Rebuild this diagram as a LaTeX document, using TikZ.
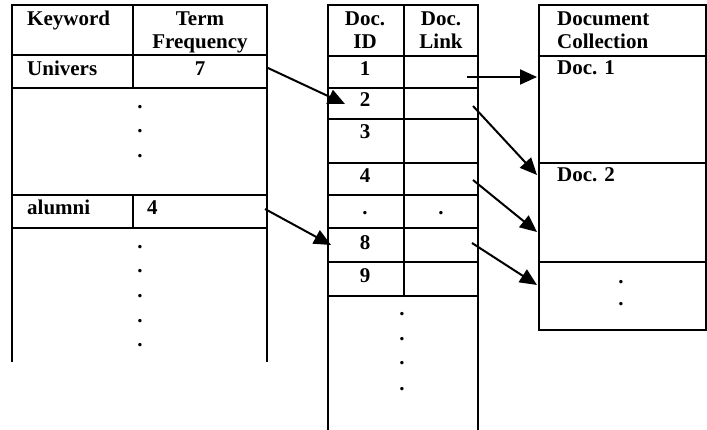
\documentclass[tikz,border=0pt]{standalone}
\usepackage{fontspec}
\setmainfont{Liberation Serif}
\usetikzlibrary{arrows.meta}

\tikzset{
  gridLine/.style={line width=2pt, line cap=rect},
  cellText/.style={font=\fontsize{21}{23}\selectfont\bfseries, inner sep=0pt},
  dotMark/.style={cellText, anchor=base},
  linkArrow/.style={line width=2pt, -{Triangle[length=17pt,width=15pt]}},
}

\begin{document}
\begin{tikzpicture}[x=1pt, y=-1pt]
  \useasboundingbox (0,0) rectangle (707,430);

  % keyword table
  \draw[gridLine] (12,361) -- (12,5) -- (267,5) -- (267,361);
  \foreach \y in {55,88,195,228} \draw[gridLine] (12,\y) -- (267,\y);
  \draw[gridLine] (133,5) -- (133,88);
  \draw[gridLine] (133,195) -- (133,228);
  \node[cellText, anchor=base west] (kwHead) at (27,26) {Keyword};
  \node[cellText, anchor=north, align=center] (tfHead) at (200,12) {Term\\Frequency};
  \node[cellText, anchor=base west] (kwUnivers) at (27,76) {Univers};
  \node[cellText, anchor=base] (tfUnivers) at (200,76) {7};
  \node[cellText, anchor=base west] (kwAlumni) at (27,215) {alumni};
  \node[cellText, anchor=base west] (tfAlumni) at (147,215) {4};
  \foreach \y in {109,133,158,249,273,298,323,347}
    \node[dotMark] at (140,\y) {.};

  % posting table
  \draw[gridLine] (328,430) -- (328,5) -- (478,5) -- (478,430);
  \foreach \y in {56,88,119,163,195,228,262,296} \draw[gridLine] (328,\y) -- (478,\y);
  \draw[gridLine] (404,5) -- (404,296);
  \node[cellText, anchor=north, align=center] (idHead) at (365,12) {Doc.\\ID};
  \node[cellText, anchor=north, align=center] (linkHead) at (441,12) {Doc.\\Link};
  \node[cellText, anchor=base] (id1) at (365,76) {1};
  \node[cellText, anchor=base] (id2) at (365,107) {2};
  \node[cellText, anchor=base] (id3) at (365,139) {3};
  \node[cellText, anchor=base] (id4) at (365,183) {4};
  \node[dotMark] (idGap) at (365,215) {.};
  \node[dotMark] (linkGap) at (441,215) {.};
  \node[cellText, anchor=base] (id8) at (365,250) {8};
  \node[cellText, anchor=base] (id9) at (365,283) {9};
  \foreach \y in {316,341,365,390}
    \node[dotMark] at (402,\y) {.};

  % document collection
  \draw[gridLine] (539,5) rectangle (706,330);
  \foreach \y in {56,163,262} \draw[gridLine] (539,\y) -- (706,\y);
  \node[cellText, anchor=north west, align=left] (collHead) at (557,12) {Document\\Collection};
  \node[cellText, anchor=base west] (doc1) at (557,75) {Doc. 1};
  \node[cellText, anchor=base west] (doc2) at (557,182) {Doc. 2};
  \foreach \y in {284,306}
    \node[dotMark] at (621,\y) {.};

  % links
  \coordinate (fromUnivers) at (268,68);
  \coordinate (toId2) at (345,104);
  \coordinate (fromAlumni) at (265,209);
  \coordinate (toId8) at (331,245);
  \coordinate (fromLink1) at (467,77);
  \coordinate (toDoc1) at (537,77);
  \coordinate (fromLink2) at (473,106);
  \coordinate (toDoc2) at (537,175);
  \coordinate (fromLink4) at (473,180);
  \coordinate (toDoc2b) at (537,232);
  \coordinate (fromLink8) at (472,243);
  \coordinate (toDocN) at (537,285);
  \draw[linkArrow] (fromUnivers) -- (toId2);
  \draw[linkArrow] (fromAlumni) -- (toId8);
  \draw[linkArrow] (fromLink1) -- (toDoc1);
  \draw[linkArrow] (fromLink2) -- (toDoc2);
  \draw[linkArrow] (fromLink4) -- (toDoc2b);
  \draw[linkArrow] (fromLink8) -- (toDocN);
\end{tikzpicture}
\end{document}
